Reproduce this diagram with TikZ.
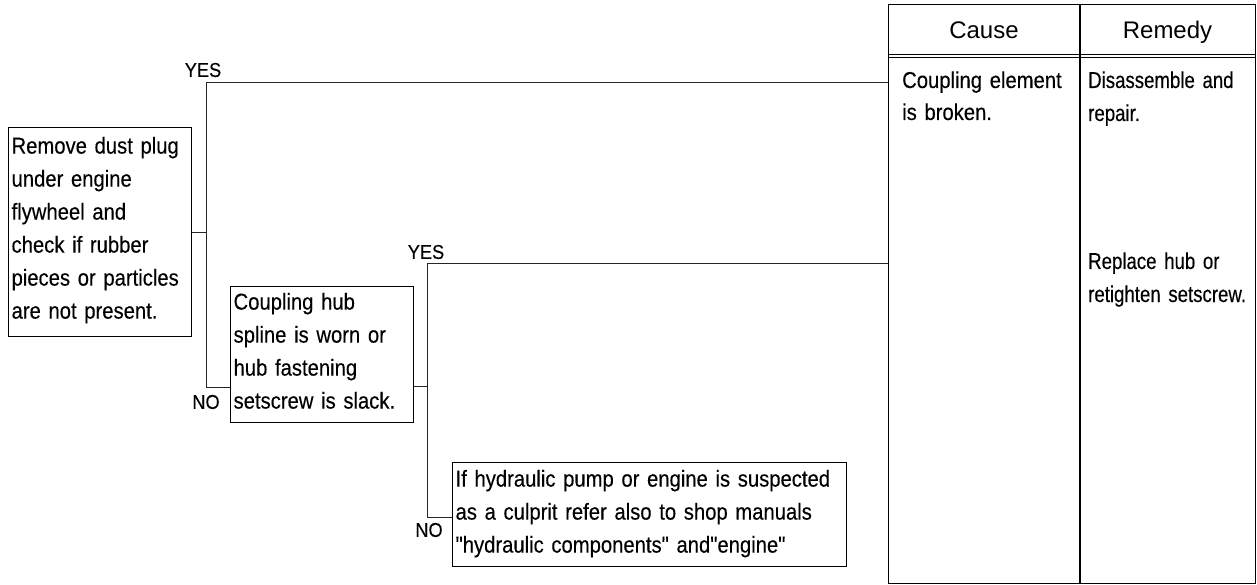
\documentclass[tikz,border=0pt]{standalone}
\usepackage{fontspec}
\setmainfont{Liberation Sans}[Ligatures=TeXOff]
\newfontfamily\bodyfont{Liberation Sans}[FakeStretch=0.88,WordSpace=0.75,FakeBold=0.25,Ligatures=TeXOff]
\newfontfamily\narrowfont{Liberation Sans}[FakeStretch=0.81,WordSpace=0.75,FakeBold=0.25,Ligatures=TeXOff]
\newfontfamily\labfont{Liberation Sans}[FakeStretch=0.91,FakeBold=0.2,Ligatures=TeXOff]
\hyphenpenalty=10000
\exhyphenpenalty=10000
\begin{document}
\begin{tikzpicture}[x=1pt,y=1pt,
  box/.style={draw, line width=1.2pt, anchor=north west, align=left,
    inner xsep=3pt, inner ysep=0pt,
    font=\bodyfont\fontsize{23}{33}\selectfont},
  link/.style={line width=0.9pt, draw=black!85},
  lab/.style={font=\labfont\fontsize{20}{22}\selectfont, inner sep=0pt},
  hdr/.style={font=\fontsize{24}{28}\selectfont, inner sep=0pt, anchor=base},
  cell/.style={align=left, inner sep=0pt, anchor=base west,
    font=\bodyfont\fontsize{23}{32}\selectfont},
  rcell/.style={align=left, inner sep=0pt, anchor=base west,
    font=\narrowfont\fontsize{23}{33}\selectfont}
]
\useasboundingbox (0,0) rectangle (1257,-585);

% table
\node[draw, line width=1.4pt, anchor=north west, minimum width=367pt,
  minimum height=579pt, inner sep=0pt] (T) at (888,-4) {};
\draw[line width=1.4pt] (1080,-4) -- (1080,-583);
\draw[line width=1pt] (888,-54.5) -- (1255,-54.5);
\draw[line width=1pt] (888,-57.5) -- (1255,-57.5);
\node[hdr] (hc) at (984,-39) {Cause};
\node[hdr] (hr) at (1167.5,-39) {Remedy};
\node[cell, text width=178pt] (c1) at (902,-88) {Coupling element\\is broken.};
\node[rcell, text width=168pt] (r1) at (1088,-88) {Disassemble and\\repair.};
\node[rcell, text width=168pt] (r2) at (1088,-269) {Replace hub or\\retighten setscrew.};

% boxes
\node[box, text width=177pt, text height=26pt, text depth=183pt] (A) at (8,-127)
  {Remove dust plug\\under engine\\flywheel and\\check if rubber\\pieces or particles\\are not present.};
\node[box, text width=177pt, text height=23pt, text depth=113pt] (B) at (230,-286)
  {Coupling hub\\spline is worn or\\hub fastening\\setscrew is slack.};
\node[box, text width=388pt, text height=24pt, text depth=80pt] (C) at (452,-462)
  {If hydraulic pump or engine is suspected\\as a culprit refer also to shop manuals\\"hydraulic components" and"engine"};

% junctions
\coordinate (s1) at (206,-82);
\coordinate (n1) at (206,-387);
\coordinate (s2) at (427,-263);
\coordinate (n2) at (427,-517);
\coordinate (b2) at (427,-386);

\draw[link] (A.east) -- (A.east -| s1);
\draw[link] (s1 -| T.west) -- (s1) -- (n1) -- (n1 -| B.west);
\draw[link] (b2 -| B.east) -- (b2);
\draw[link] (s2 -| T.west) -- (s2) -- (n2) -- (n2 -| C.west);

\node[lab] (y1) at (203,-70) {YES};
\node[lab] (no1) at (206,-402) {NO};
\node[lab] (y2) at (426,-252) {YES};
\node[lab] (no2) at (429,-530) {NO};
\end{tikzpicture}
\end{document}
